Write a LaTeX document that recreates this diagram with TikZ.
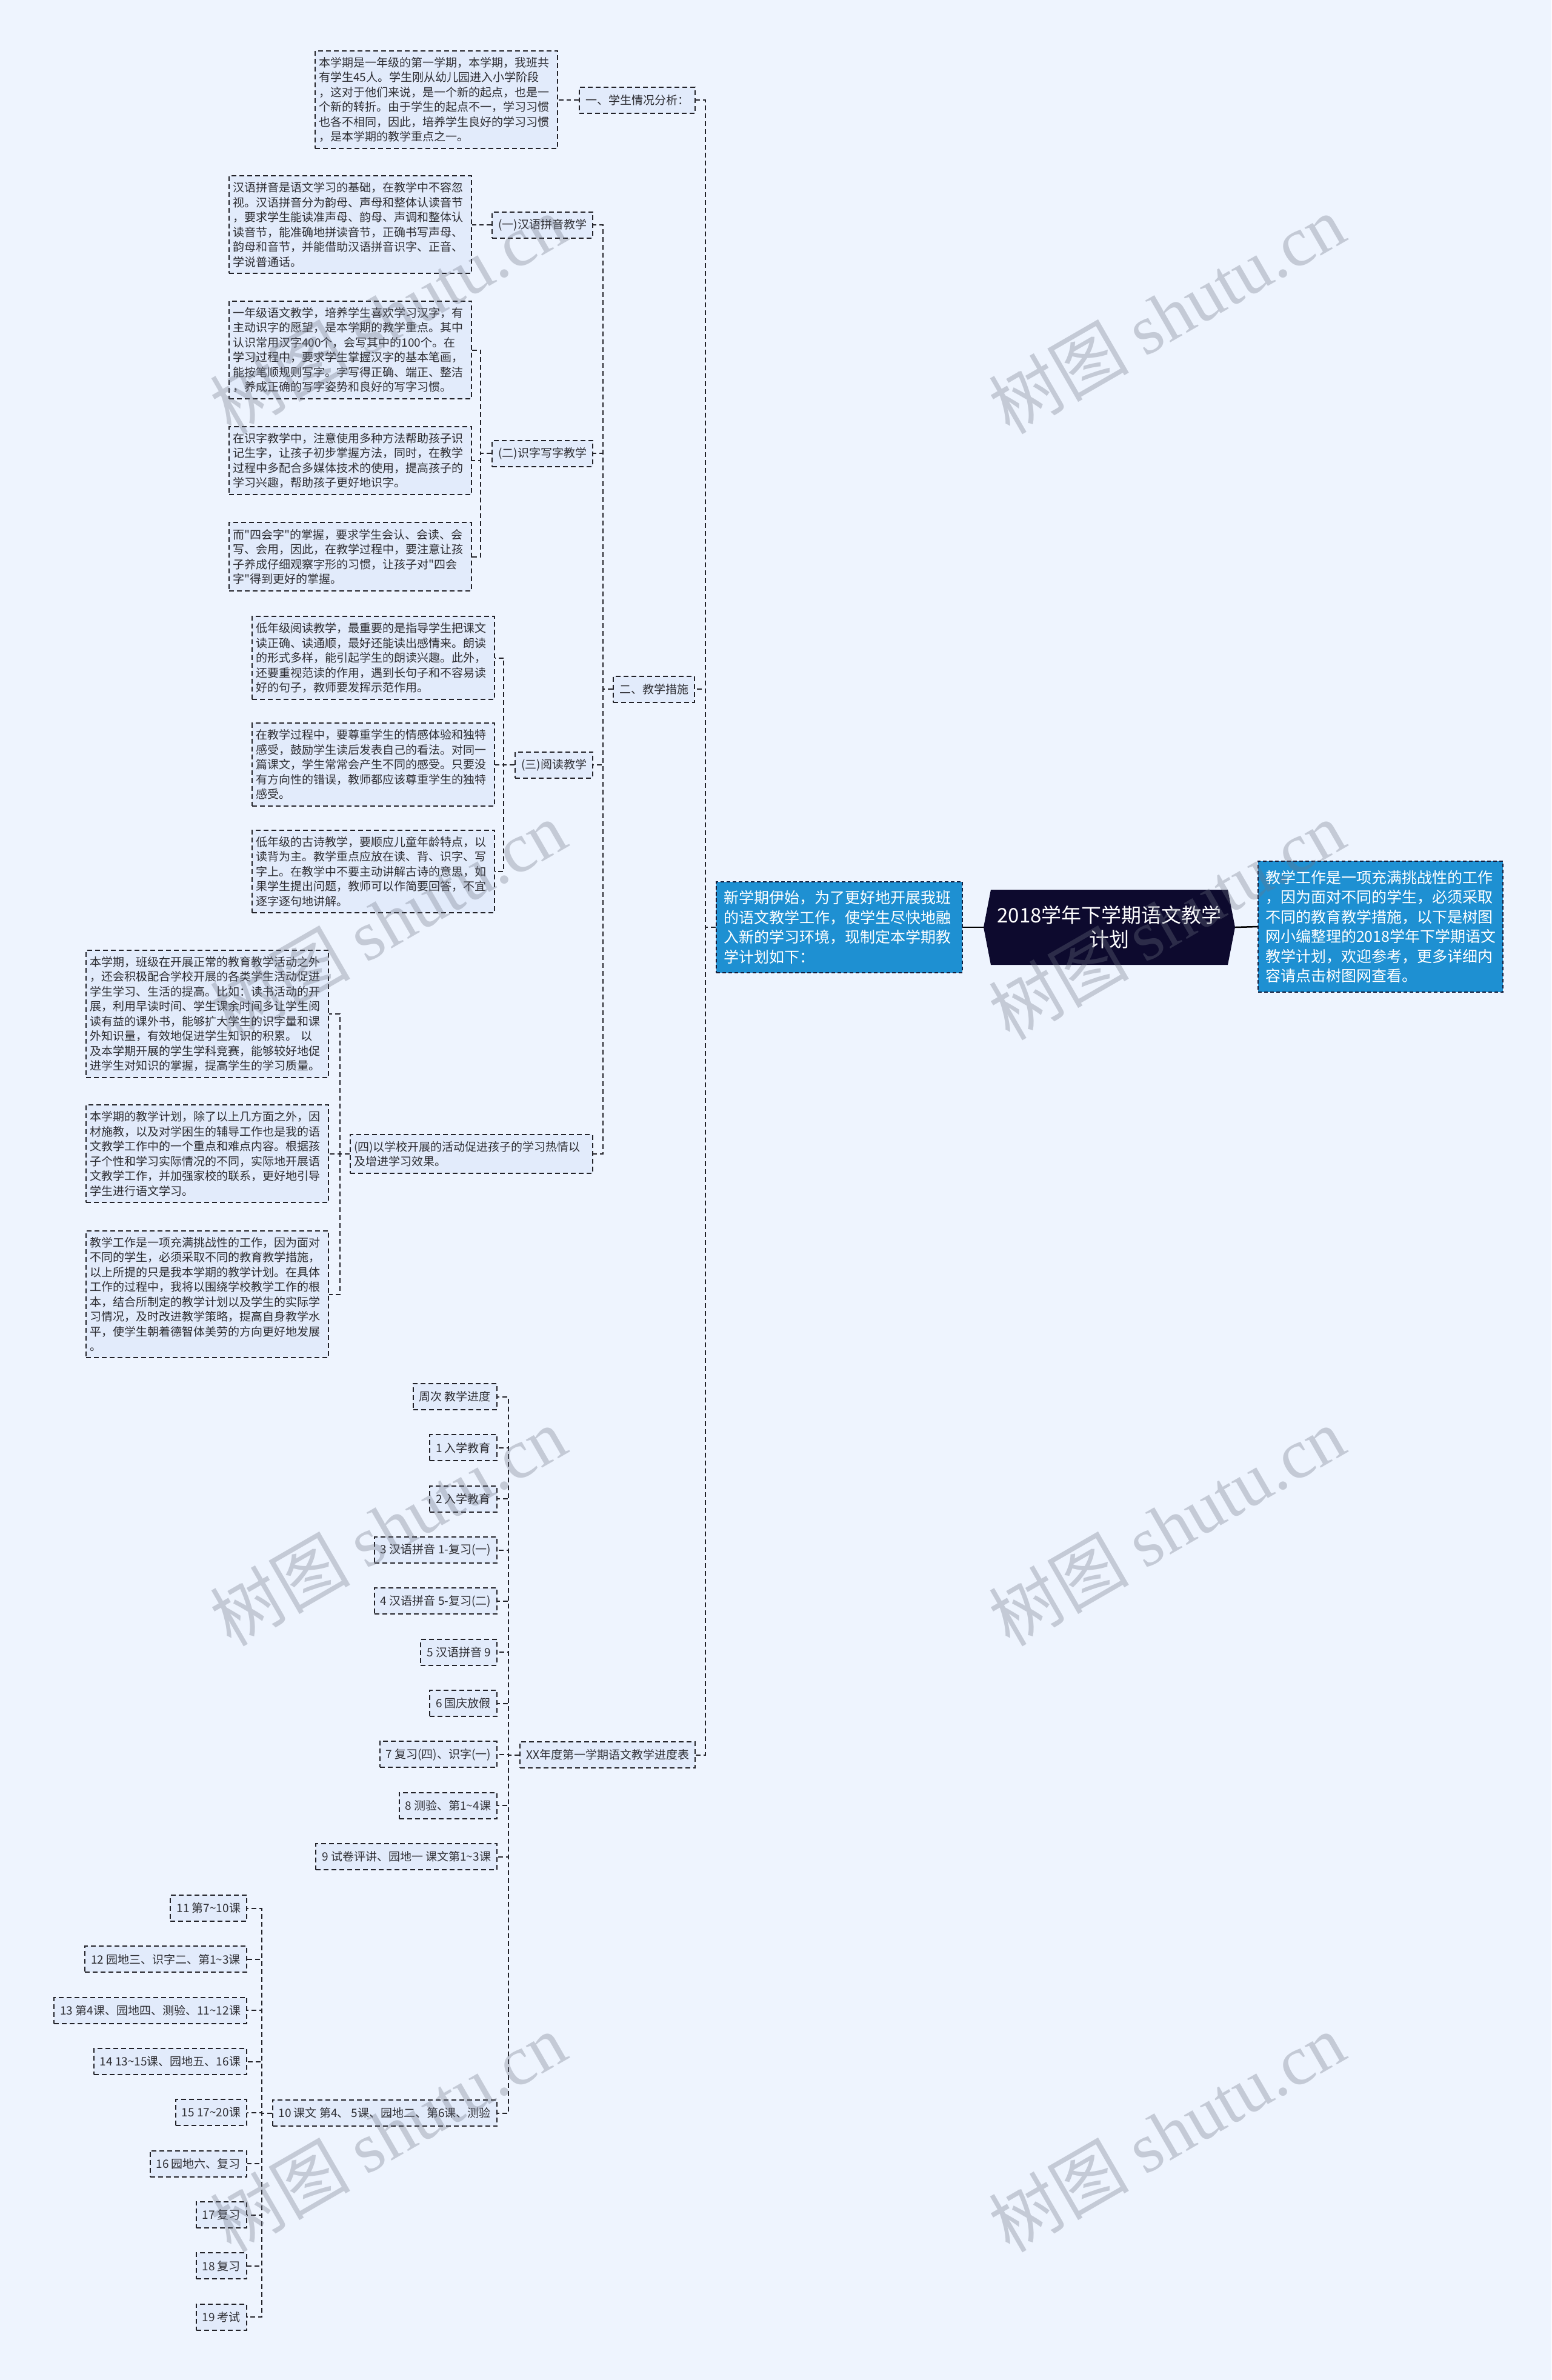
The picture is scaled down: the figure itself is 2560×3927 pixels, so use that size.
\documentclass[tikz,border=0pt]{standalone}
\usepackage{fontspec}
\setmainfont{Noto Sans CJK SC}
\newfontfamily\wmlatin{Liberation Serif}
\newfontfamily\wmcjk{Noto Sans CJK SC}
\definecolor{bgc}{RGB}{238,244,254}
\definecolor{nfill}{RGB}{226,235,251}
\definecolor{ndraw}{RGB}{34,34,40}
\definecolor{ntext}{RGB}{45,45,50}
\definecolor{bfill}{RGB}{30,144,210}
\definecolor{bdraw}{RGB}{20,30,60}
\definecolor{rfill}{RGB}{13,10,46}
\definecolor{wmc}{RGB}{110,116,132}
\newcommand{\tld}{\textasciitilde}
\newcommand{\qd}{\textquotedbl}
\begin{document}
\begin{tikzpicture}[x=1pt,y=-1pt,
  dbase/.style={draw=ndraw, line width=2pt, dash pattern=on 8pt off 5pt, fill=nfill, text=ntext},
  para/.style={dbase, font=\fontsize{19pt}{24.5pt}\selectfont, align=left, text width=388pt, inner xsep=6pt, inner ysep=10.5pt, anchor=east},
  item/.style={dbase, font=\fontsize{19pt}{24.5pt}\selectfont, inner xsep=10pt, inner ysep=0pt, minimum height=43pt, anchor=east},
  bluebox/.style={draw=bdraw, line width=2pt, dash pattern=on 6pt off 4pt, fill=bfill, text=white, font=\fontsize{25pt}{32.5pt}\selectfont, align=left, inner xsep=12pt, inner ysep=15pt},
  rootbox/.style={text=white, font=\fontsize{33pt}{40pt}\selectfont, align=center, minimum width=415pt, minimum height=124pt, inner sep=0pt},
  conn/.style={draw=ndraw, line width=2pt, dash pattern=on 8pt off 5pt},
  solidconn/.style={draw=black, line width=2.5pt},
  wm/.style={text=wmc, text opacity=0.32, rotate=30, font=\fontsize{116pt}{116pt}\wmcjk}
]
\useasboundingbox (0,0) rectangle (2560,3927);
\fill[bgc] (0,0) rectangle (2560,3927);

% root hexagon
\fill[rfill] (1623,1530) -- (1635,1468) -- (2026,1468) -- (2038,1530) -- (2026,1592) -- (1635,1592) -- cycle;
\node[rootbox] (root) at (1830.5,1530) {2018学年下学期语文教学\\计划};

\node[bluebox, text width=382pt, anchor=east] (lb) at (1589,1530) {新学期伊始，为了更好地开展我班\\的语文教学工作，使学生尽快地融\\入新的学习环境，现制定本学期教\\学计划如下：};
\node[bluebox, text width=380pt, anchor=west] (rb) at (2075,1529) {教学工作是一项充满挑战性的工作\\，因为面对不同的学生，必须采取\\不同的教育教学措施，以下是树图\\网小编整理的2018学年下学期语文\\教学计划，欢迎参考，更多详细内\\容请点击树图网查看。};

% level 1
\node[item] (n1) at (1148,165) {一、学生情况分析：};
\node[item] (n2) at (1147,1137) {二、教学措施};
\node[item] (sch) at (1148,2895.5) {XX年度第一学期语文教学进度表};

% section 1
\node[para] (t1) at (921,164.5) {本学期是一年级的第一学期，本学期，我班共\\有学生45人。学生刚从幼儿园进入小学阶段\\，这对于他们来说，是一个新的起点，也是一\\个新的转折。由于学生的起点不一，学习习惯\\也各不相同，因此，培养学生良好的学习习惯\\，是本学期的教学重点之一。};

% section 2 subs
\node[item] (a1) at (979,371) {(一)汉语拼音教学};
\node[item] (a2) at (979,748) {(二)识字写字教学};
\node[item] (a3) at (979,1262) {(三)阅读教学};
\node[para] (a4) at (979,1904) {(四)以学校开展的活动促进孩子的学习热情以\\及增进学习效果。};

\node[para] (t2) at (779,370.5) {汉语拼音是语文学习的基础，在教学中不容忽\\视。汉语拼音分为韵母、声母和整体认读音节\\，要求学生能读准声母、韵母、声调和整体认\\读音节，能准确地拼读音节，正确书写声母、\\韵母和音节，并能借助汉语拼音识字、正音、\\学说普通话。};

\node[para] (t3a) at (779,577.5) {一年级语文教学，培养学生喜欢学习汉字，有\\主动识字的愿望，是本学期的教学重点。其中\\认识常用汉字400个，会写其中的100个。在\\学习过程中，要求学生掌握汉字的基本笔画，\\能按笔顺规则写字。字写得正确、端正、整洁\\，养成正确的写字姿势和良好的写字习惯。};
\node[para] (t3b) at (779,760) {在识字教学中，注意使用多种方法帮助孩子识\\记生字，让孩子初步掌握方法，同时，在教学\\过程中多配合多媒体技术的使用，提高孩子的\\学习兴趣，帮助孩子更好地识字。};
\node[para] (t3c) at (779,918.5) {而\qd 四会字\qd 的掌握，要求学生会认、会读、会\\写、会用，因此，在教学过程中，要注意让孩\\子养成仔细观察字形的习惯，让孩子对\qd 四会\\字\qd 得到更好的掌握。};

\node[para] (t4a) at (817,1085.5) {低年级阅读教学，最重要的是指导学生把课文\\读正确、读通顺，最好还能读出感情来。朗读\\的形式多样，能引起学生的朗读兴趣。此外，\\还要重视范读的作用，遇到长句子和不容易读\\好的句子，教师要发挥示范作用。};
\node[para] (t4b) at (817,1261.5) {在教学过程中，要尊重学生的情感体验和独特\\感受，鼓励学生读后发表自己的看法。对同一\\篇课文，学生常常会产生不同的感受。只要没\\有方向性的错误，教师都应该尊重学生的独特\\感受。};
\node[para] (t4c) at (817,1438) {低年级的古诗教学，要顺应儿童年龄特点，以\\读背为主。教学重点应放在读、背、识字、写\\字上。在教学中不要主动讲解古诗的意思，如\\果学生提出问题，教师可以作简要回答，不宜\\逐字逐句地讲解。};

\node[para] (t5a) at (543,1673) {本学期，班级在开展正常的教育教学活动之外\\，还会积极配合学校开展的各类学生活动促进\\学生学习、生活的提高。比如：读书活动的开\\展，利用早读时间、学生课余时间多让学生阅\\读有益的课外书，能够扩大学生的识字量和课\\外知识量，有效地促进学生知识的积累。~以\\及本学期开展的学生学科竞赛，能够较好地促\\进学生对知识的掌握，提高学生的学习质量。};
\node[para] (t5b) at (543,1903.5) {本学期的教学计划，除了以上几方面之外，因\\材施教，以及对学困生的辅导工作也是我的语\\文教学工作中的一个重点和难点内容。根据孩\\子个性和学习实际情况的不同，实际地开展语\\文教学工作，并加强家校的联系，更好地引导\\学生进行语文学习。};
\node[para] (t5c) at (543,2135.5) {教学工作是一项充满挑战性的工作，因为面对\\不同的学生，必须采取不同的教育教学措施，\\以上所提的只是我本学期的教学计划。在具体\\工作的过程中，我将以围绕学校教学工作的根\\本，结合所制定的教学计划以及学生的实际学\\习情况，及时改进教学策略，提高自身教学水\\平，使学生朝着德智体美劳的方向更好地发展\\。};

% schedule
\node[item] (s0) at (821,2304.5) {周次 教学进度};
\node[item] (s1) at (821,2388.8) {1 入学教育};
\node[item] (s2) at (821,2473.2) {2 入学教育};
\node[item] (s3) at (821,2557.5) {3 汉语拼音 1-复习(一)};
\node[item] (s4) at (821,2641.8) {4 汉语拼音 5-复习(二)};
\node[item] (s5) at (821,2726.2) {5 汉语拼音 9};
\node[item] (s6) at (821,2810.5) {6 国庆放假};
\node[item] (s7) at (821,2894.8) {7 复习(四)、识字(一)};
\node[item] (s8) at (821,2979.2) {8 测验、第1\tld 4课};
\node[item] (s9) at (821,3063.5) {9 试卷评讲、园地一 课文第1\tld 3课};
\node[item] (s10) at (821,3486.5) {10 课文 第4、 5课、园地二、第6课、测验};

\node[item] (u11) at (408,3148.5) {11 第7\tld 10课};
\node[item] (u12) at (408,3232.8) {12 园地三、识字二、第1\tld 3课};
\node[item] (u13) at (408,3317.2) {13 第4课、园地四、测验、11\tld 12课};
\node[item] (u14) at (408,3401.5) {14 13\tld 15课、园地五、16课};
\node[item] (u15) at (408,3485.8) {15 17\tld 20课};
\node[item] (u16) at (408,3570.2) {16 园地六、复习};
\node[item] (u17) at (408,3654.5) {17 复习};
\node[item] (u18) at (408,3738.8) {18 复习};
\node[item] (u19) at (408,3823.2) {19 考试};

% connectors
\draw[solidconn] (root.west) -- (lb.east);
\draw[solidconn] (root.east) -- (rb.west);

\foreach \c in {n1,n2,sch}
  \draw[conn] (lb.west) -- ++(-17,0) |- (\c.east);

\draw[conn] (n1.west) -- ++(-18,0) |- (t1.east);

\foreach \c in {a1,a2,a3,a4}
  \draw[conn] (n2.west) -- ++(-16,0) |- (\c.east);

\draw[conn] (a1.west) -- ++(-17,0) |- (t2.east);
\foreach \c in {t3a,t3b,t3c}
  \draw[conn] (a2.west) -- ++(-18,0) |- (\c.east);
\foreach \c in {t4a,t4b,t4c}
  \draw[conn] (a3.west) -- ++(-18,0) |- (\c.east);
\foreach \c in {t5a,t5b,t5c}
  \draw[conn] (a4.west) -- ++(-16,0) |- (\c.east);

\foreach \c in {s0,s1,s2,s3,s4,s5,s6,s7,s8,s9,s10}
  \draw[conn] (sch.west) -- ++(-18,0) |- (\c.east);
\foreach \c in {u11,u12,u13,u14,u15,u16,u17,u18,u19}
  \draw[conn] (s10.west) -- ++(-17,0) |- (\c.east);

% watermarks
\foreach \wx/\wy [count=\i] in {640/518,1925/518,640/1518,1925/1518,640/2518,1925/2518,640/3518,1925/3518}
  \node[wm] (wm\i) at (\wx,\wy) {树图 {\wmlatin shutu.cn}};
\end{tikzpicture}
\end{document}
